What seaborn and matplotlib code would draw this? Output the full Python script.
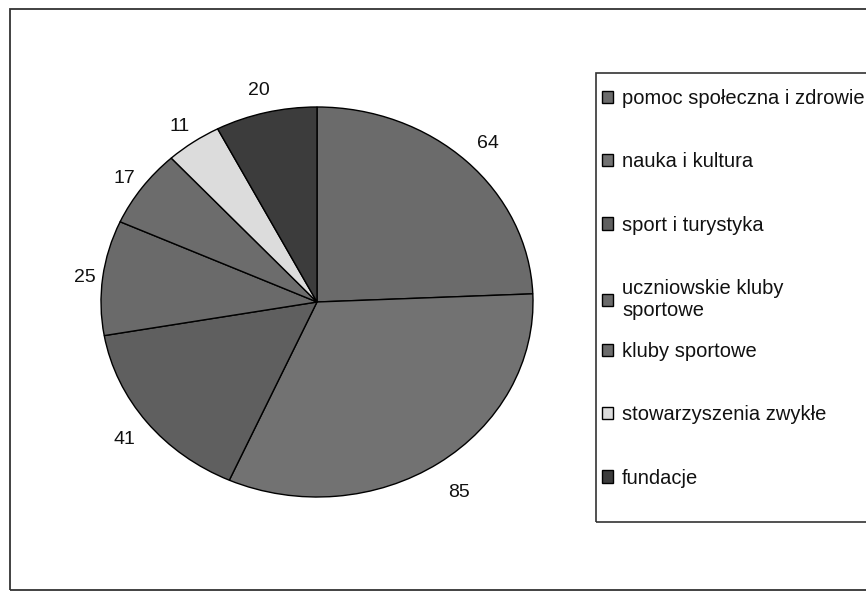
import matplotlib
matplotlib.use("Agg")
import matplotlib.pyplot as plt
import seaborn as sns
import numpy as np
from matplotlib.patches import Rectangle

categories = [
    "pomoc społeczna i zdrowie",
    "nauka i kultura",
    "sport i turystyka",
    "uczniowskie kluby\nsportowe",
    "kluby sportowe",
    "stowarzyszenia zwykłe",
    "fundacje",
]
values = [64, 85, 41, 25, 17, 11, 20]
colors = ["#6b6b6b", "#727272", "#5f5f5f", "#6a6a6a", "#6c6c6c", "#dcdcdc", "#3c3c3c"]

sns.set_theme(style="white")
plt.rcParams["font.family"] = ["Liberation Sans", "DejaVu Sans"]

W, H = 866, 595
fig = plt.figure(figsize=(W / 100, H / 100), dpi=100)
fig.patch.set_facecolor("white")

# outer chart frame (runs off the right edge like the scan)
fig.patches.append(Rectangle((10 / W, 1 - 590 / H), 880 / W, 581 / H,
                             transform=fig.transFigure, fill=False,
                             edgecolor="#333333", linewidth=1.3))

# pie area: ellipse centred at (317, 302), rx 216, ry 195 px
cx, cy, rx, ry = 317, 302, 216, 195
ax = fig.add_axes([(cx - rx) / W, 1 - (cy + ry) / H, 2 * rx / W, 2 * ry / H])
wedges, texts = ax.pie(
    values, colors=colors, startangle=90, counterclock=False,
    labels=[str(v) for v in values], labeldistance=1.12,
    wedgeprops=dict(edgecolor="black", linewidth=1.0),
    textprops=dict(fontsize=14, color="#111111"),
)
# label distances tuned per slice, the way Excel puts them
label_dist = [1.14, 1.17, 1.13, 1.085, 1.10, 1.115, 1.13]
for w, t, d in zip(wedges, texts, label_dist):
    mid = np.deg2rad((w.theta1 + w.theta2) / 2)
    t.set_position((d * np.cos(mid), d * np.sin(mid) - 0.012))
    t.set_ha("center")
    t.set_va("center")
ax.set_aspect("auto")
ax.set_xlim(-1, 1)
ax.set_ylim(-1, 1)
ax.axis("off")

# legend frame
fig.patches.append(Rectangle((596 / W, 1 - 522 / H), 300 / W, 449 / H,
                             transform=fig.transFigure, fill=False,
                             edgecolor="#333333", linewidth=1.2))

leg_kw = dict(loc="upper left", frameon=False, fontsize=14.5,
              handlelength=0.55, handleheight=0.55, handletextpad=0.45,
              labelspacing=2.2, borderpad=0, borderaxespad=0)
leg1 = fig.legend(wedges[:4], categories[:4],
                  bbox_to_anchor=(602 / W, 1 - 89 / H), **leg_kw)
leg2 = fig.legend(wedges[4:], categories[4:],
                  bbox_to_anchor=(602 / W, 1 - 342 / H), **leg_kw)
for leg in (leg1, leg2):
    for t in leg.get_texts():
        t.set_color("#111111")

fig.savefig("out.png", dpi=100)
